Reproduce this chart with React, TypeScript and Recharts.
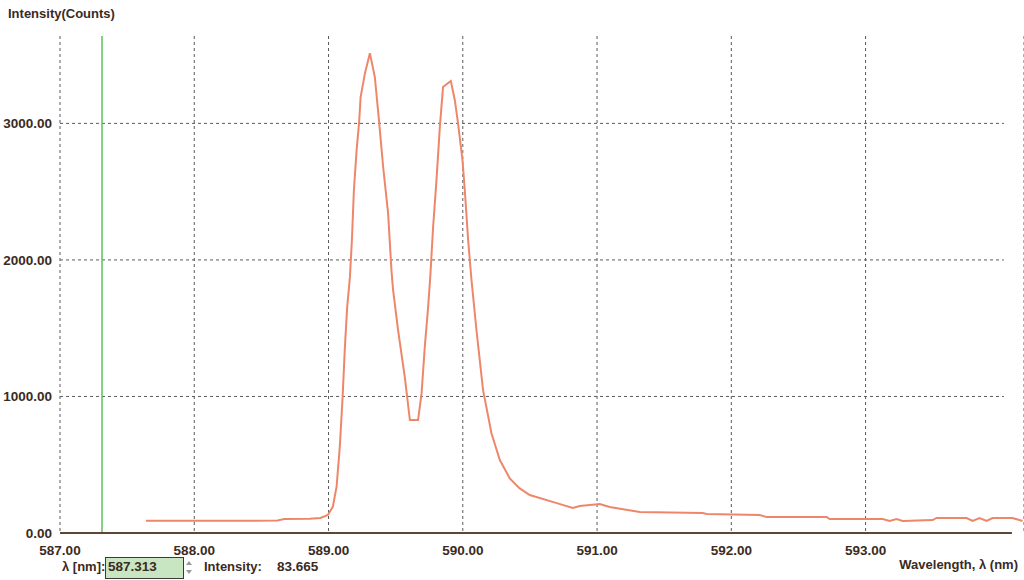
import React from 'react';
import { LineChart, Line, XAxis, YAxis, CartesianGrid, ReferenceLine } from 'recharts';

// spectrum (wavelength in nm, intensity in counts)
const wavelengths = [
    587.64, 588.04, 588.41, 588.62, 588.67, 588.86, 588.94, 588.995, 589.032, 589.06,
    589.084, 589.105, 589.122, 589.139, 589.159, 589.174, 589.189, 589.209, 589.228, 589.239,
    589.271, 589.308, 589.345, 589.377, 589.407, 589.444, 589.469, 589.481, 589.518, 589.568,
    589.606, 589.667, 589.693, 589.717, 589.742, 589.758, 589.779, 589.804, 589.829, 589.853,
    589.911, 589.941, 589.965, 589.998, 590.015, 590.04, 590.065, 590.102, 590.151, 590.214,
    590.276, 590.35, 590.424, 590.499, 590.7, 590.819, 590.871, 591.02, 591.094, 591.318,
    591.787, 591.817, 592.211, 592.263, 592.71, 592.732, 593.127, 593.179, 593.231, 593.276,
    593.499, 593.529, 593.752, 593.797, 593.849, 593.901, 593.946, 594.094, 594.169,
];
const intensities = [
    90, 90, 90, 92, 102, 105, 110, 132, 192, 339,
    631, 997, 1363, 1656, 1870, 2143, 2510, 2802, 3009, 3192,
    3366, 3514, 3339, 3009, 2680, 2339, 1920, 1778, 1485, 1144,
    827, 827, 1022, 1363, 1656, 1880, 2241, 2583, 2973, 3266,
    3310, 3168, 2998, 2729, 2510, 2144, 1851, 1485, 1046, 729,
    534, 400, 327, 278, 219, 183, 198, 212, 190, 154,
    146, 139, 132, 117, 117, 102, 102, 88, 102, 88,
    95, 110, 110, 88, 110, 88, 110, 110, 88,
];

const xTicks = [587, 588, 589, 590, 591, 592, 593];
const yTicks = [0, 1000, 2000, 3000];
const gridLevels = [1000, 2000, 3000];
const cursorWavelength = 587.313;
const cursorIntensity = 83.665;

const xDomain: [number, number] = [587, 594.18];
const axisEnd = 594.09;
const gridEnd = 594.03;

const data = wavelengths.map((w, i) => ({ wl: w, counts: intensities[i] }));

const TEXT = '#3b2b1f';
const FONT = '"Liberation Sans", Arial, sans-serif';

const label: React.CSSProperties = {
    position: 'absolute',
    fontFamily: FONT,
    fontWeight: 700,
    fontSize: 13,
    color: TEXT,
    whiteSpace: 'nowrap',
    lineHeight: '16px',
};

const tickStyle = { fill: TEXT, fontSize: 13.5, fontWeight: 700, fontFamily: FONT };

const App = () => {
    return (
        <div style={{ position: 'absolute', left: 0, top: 0, width: 1024, height: 580, background: '#fff', overflow: 'hidden' }}>
            <LineChart width={1024} height={580} data={data} margin={{ top: 36, right: 0, left: 0, bottom: 0 }}>
                <CartesianGrid horizontal={false} stroke="#5a5a5a" strokeDasharray="3 3" />
                {gridLevels.map((v) => (
                    <ReferenceLine
                        key={v}
                        segment={[{ x: xDomain[0], y: v }, { x: gridEnd, y: v }]}
                        stroke="#5a5a5a"
                        strokeDasharray="3 3"
                    />
                ))}
                <XAxis
                    type="number"
                    dataKey="wl"
                    domain={xDomain}
                    allowDataOverflow
                    ticks={xTicks}
                    tickFormatter={(v: number) => v.toFixed(2)}
                    axisLine={false}
                    tickLine={false}
                    tickMargin={6}
                    height={47}
                    tick={tickStyle}
                />
                <YAxis
                    type="number"
                    domain={[0, 3640]}
                    allowDataOverflow
                    ticks={yTicks}
                    tickFormatter={(v: number) => v.toFixed(2)}
                    axisLine={false}
                    tickLine={false}
                    width={60}
                    tick={tickStyle}
                />
                <ReferenceLine x={cursorWavelength} stroke="#5cc25c" strokeWidth={1.5} />
                <ReferenceLine
                    segment={[{ x: xDomain[0], y: 0 }, { x: axisEnd, y: 0 }]}
                    stroke="#5e4636"
                    strokeWidth={2}
                />
                <Line
                    type="linear"
                    dataKey="counts"
                    stroke="#ee876a"
                    strokeWidth={2}
                    dot={false}
                    isAnimationActive={false}
                />
            </LineChart>

            <div style={{ ...label, left: 8, top: 6 }}>Intensity(Counts)</div>
            <div style={{ ...label, left: 62, top: 559 }}>λ [nm]:</div>
            <div
                style={{
                    position: 'absolute',
                    left: 105,
                    top: 557,
                    width: 77,
                    height: 20,
                    background: '#c8e6c2',
                    border: '1px solid #3a3a3a',
                }}
            />
            <div style={{ ...label, fontSize: 13.5, left: 108, top: 559 }}>{cursorWavelength.toFixed(3)}</div>
            <svg style={{ position: 'absolute', left: 184, top: 558 }} width={10} height={20}>
                <path d="M2 7 L5 3 L8 7 Z" fill="#9a9a9a" />
                <path d="M2 12 L5 16 L8 12 Z" fill="#9a9a9a" />
            </svg>
            <div style={{ ...label, left: 204, top: 559 }}>Intensity:</div>
            <div style={{ ...label, fontSize: 13.5, left: 277, top: 559 }}>{cursorIntensity.toFixed(3)}</div>
            <div style={{ ...label, right: 6, top: 557 }}>Wavelength, λ (nm)</div>
        </div>
    );
};

export default App;
